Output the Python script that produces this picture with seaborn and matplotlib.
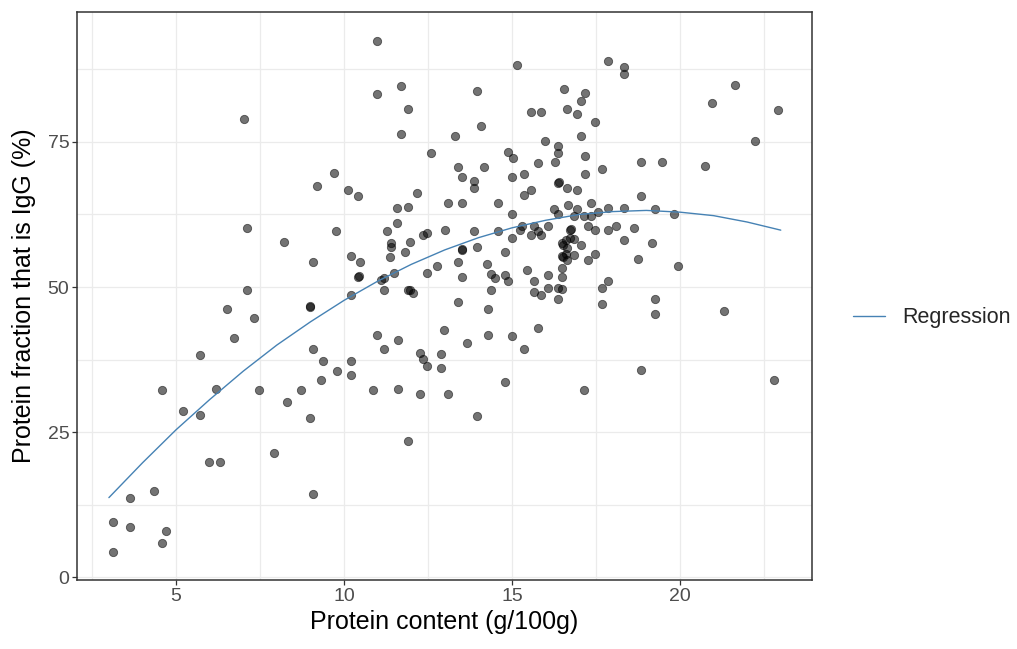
import numpy as np
import pandas as pd
import matplotlib
matplotlib.use("Agg")
import matplotlib.pyplot as plt
import seaborn as sns
from matplotlib.ticker import MultipleLocator

# ---- data ----
protein = [
    7.02, 9.18,
    10.98, 15.15, 11.70, 10.98, 13.96, 16.54, 11.90, 15.56, 15.86, 16.63, 14.07, 11.70,
    13.29, 15.97, 16.38, 16.38, 12.58, 14.89, 15.04, 16.28, 15.76, 9.69, 13.39, 14.16,
    15.35, 13.50, 14.99, 13.86, 13.86, 16.38, 16.40, 16.63, 10.12, 10.42, 12.16, 15.35,
    15.56, 11.59, 11.90, 13.09, 13.50, 14.58, 16.25, 16.68,
    17.87, 18.33, 18.33, 17.16, 17.04, 16.94, 17.46, 17.04, 21.63, 20.95, 22.91, 22.24,
    17.16, 18.85, 19.46, 20.75, 17.67, 17.16, 16.94, 18.85, 17.36, 16.94, 17.87, 18.33,
    19.26,
    17.57, 17.15, 17.35, 16.84, 19.83, 17.25, 18.11, 18.64, 17.46, 17.87, 17.04, 18.33,
    19.16, 17.46, 16.85, 17.25, 18.74, 19.93, 17.87, 17.67, 19.26, 17.67, 19.26, 21.32,
    18.85, 22.81, 17.15,
    16.73, 16.75, 16.73, 16.85, 16.62, 16.48, 16.53, 16.65, 16.48, 16.60, 16.53, 16.63,
    16.48,
    14.99, 16.38, 11.59, 9.77, 11.29, 12.99, 12.36, 12.48, 13.86, 14.58, 15.30, 15.24,
    15.65, 15.76, 15.86, 15.56, 16.07, 14.99, 11.39, 11.39, 11.96, 11.38, 11.81, 13.50,
    13.52, 13.96, 14.78, 10.20, 10.47, 13.39, 12.78, 14.27, 15.46, 12.46, 10.42, 10.44,
    11.49, 11.09, 11.19, 13.50, 14.38, 14.48, 14.78, 14.89, 16.07, 16.49, 10.21, 11.19,
    11.90, 11.96, 12.06, 14.38, 15.65, 15.65, 15.86, 16.07, 16.38, 16.48, 16.38, 13.39,
    14.28, 15.76, 12.98, 10.98, 11.60, 14.28, 14.99, 11.18, 13.65, 15.36, 12.26, 12.88,
    12.36, 9.38, 10.21, 12.46, 12.88, 9.80, 10.21, 9.32, 14.78, 10.87, 11.60, 12.26,
    13.09, 13.96, 11.90,
    7.12, 8.21, 9.07, 7.12, 6.51, 7.33, 8.98, 9.00, 6.72, 5.72, 9.07, 4.59, 6.20, 7.48,
    8.71,
    8.30, 5.22, 5.72, 8.98, 7.90, 5.99, 6.30, 4.34, 3.62, 9.07, 3.12, 3.62, 4.70, 4.59,
    3.12,
]
igg = [
    79.0, 67.4,
    92.4, 88.2, 84.7, 83.2, 83.8, 84.1, 80.7, 80.2, 80.2, 80.7, 77.8, 76.3,
    76.0, 75.1, 74.3, 73.1, 73.1, 73.3, 72.2, 71.6, 71.3, 69.7, 70.7, 70.7,
    69.5, 68.9, 68.9, 68.3, 67.1, 68.0, 68.1, 67.1, 66.8, 65.6, 66.2, 65.9,
    66.8, 63.6, 63.8, 64.4, 64.4, 64.4, 63.4, 64.1,
    88.9, 88.0, 86.7, 83.5, 82.0, 79.9, 78.4, 76.0, 84.9, 81.7, 80.5, 75.1,
    72.5, 71.5, 71.5, 70.9, 70.3, 69.5, 66.7, 65.6, 64.4, 63.4, 63.6, 63.7,
    63.4,
    62.9, 62.3, 62.3, 62.3, 62.6, 60.5, 60.5, 60.2, 59.9, 59.9, 57.2, 58.1,
    57.5, 55.7, 55.5, 54.6, 54.8, 53.6, 51.0, 49.8, 48.0, 47.1, 45.3, 45.9,
    35.7, 34.0, 32.2,
    59.9, 60.0, 58.5, 58.2, 58.1, 57.6, 57.2, 56.8, 55.4, 55.7, 55.1, 54.7,
    53.3,
    62.6, 62.6, 61.1, 59.6, 59.6, 59.9, 59.0, 59.3, 59.6, 59.6, 60.5, 59.9,
    60.5, 59.6, 59.0, 59.0, 60.5, 58.4, 57.5, 56.9, 57.8, 55.1, 56.0, 56.4,
    56.5, 56.9, 56.0, 55.4, 54.3, 54.3, 53.7, 54.0, 53.0, 52.5, 51.8, 51.9,
    52.5, 51.2, 51.5, 51.8, 52.2, 51.6, 52.1, 51.0, 52.1, 51.8, 48.6, 49.5,
    49.5, 49.5, 48.9, 49.5, 51.0, 49.2, 48.6, 49.8, 49.8, 49.6, 48.0, 47.4,
    46.2, 42.9, 42.6, 41.7, 40.9, 41.8, 41.5, 39.4, 40.3, 39.4, 38.7, 38.4,
    37.6, 37.2, 37.2, 36.4, 36.1, 35.5, 34.9, 34.0, 33.7, 32.2, 32.5, 31.6,
    31.6, 27.7, 23.5,
    60.2, 57.8, 54.3, 49.5, 46.2, 44.7, 46.6, 46.7, 41.2, 38.2, 39.4, 32.2, 32.5, 32.2,
    32.2,
    30.2, 28.6, 28.0, 27.4, 21.4, 19.9, 19.9, 14.9, 13.7, 14.3, 9.5, 8.6, 8.0, 5.9,
    4.4,
]

# regression curve at whole-number protein values
reg_x = [3, 4, 5, 6, 7, 8, 9, 10, 11, 12, 13, 14, 15, 16, 17, 18, 19, 20, 21, 22, 23]
reg_y = [13.7, 19.7, 25.4, 30.6, 35.5, 40.0, 44.0, 47.7, 51.0, 53.9, 56.4, 58.5,
         60.2, 61.5, 62.5, 63.0, 63.2, 62.9, 62.3, 61.2, 59.8]

x_ticks = [5, 10, 15, 20]
y_ticks = [0, 25, 50, 75]
x_label = "Protein content (g/100g)"
y_label = "Protein fraction that is IgG (%)"
legend_label = "Regression"

# ---- style ----
sns.set_theme(style="white")
plt.rcParams['font.family'] = ['Liberation Sans', 'DejaVu Sans']

W, H = 1017, 649
fig = plt.figure(figsize=(W / 100, H / 100), dpi=100)
ax = fig.add_axes([77 / W, 1 - 580 / H, 735 / W, 568 / H])

pts = pd.DataFrame({"protein": protein, "igg": igg})
sns.scatterplot(data=pts, x="protein", y="igg", ax=ax, color="black", alpha=0.55,
                s=36, edgecolor="black", linewidth=0.6, zorder=3, legend=False)

reg = pd.DataFrame({"x": reg_x, "y": reg_y})
sns.lineplot(data=reg, x="x", y="y", ax=ax, color="#4682B4", linewidth=1.0,
             label=legend_label, zorder=4, sort=True, estimator=None)

ax.set_xlim(2.05, 23.93)
ax.set_ylim(-0.5, 97.4)
ax.set_xticks(x_ticks)
ax.set_yticks(y_ticks)
ax.xaxis.set_minor_locator(MultipleLocator(2.5))
ax.yaxis.set_minor_locator(MultipleLocator(12.5))
ax.grid(which="both", color="#EBEBEB", linewidth=0.9)
ax.set_axisbelow(True)

for sp in ax.spines.values():
    sp.set_color("#333333")
    sp.set_linewidth(1.1)

ax.tick_params(which="major", length=3.5, width=0.9, color="#333333",
               labelcolor="#4D4D4D", labelsize=14, pad=2,
               bottom=True, left=True)
ax.tick_params(which="minor", length=0)

ax.set_xlabel(x_label, fontsize=18, color="black", labelpad=4)
ax.set_ylabel(y_label, fontsize=18, color="black", labelpad=8)

leg = ax.legend(loc="center left", bbox_to_anchor=(853 / W, 1 - 318 / H),
                bbox_transform=fig.transFigure, frameon=False, fontsize=15.5,
                handlelength=1.5, handletextpad=0.8, borderpad=0, borderaxespad=0)

fig.savefig("out.png", dpi=100)
